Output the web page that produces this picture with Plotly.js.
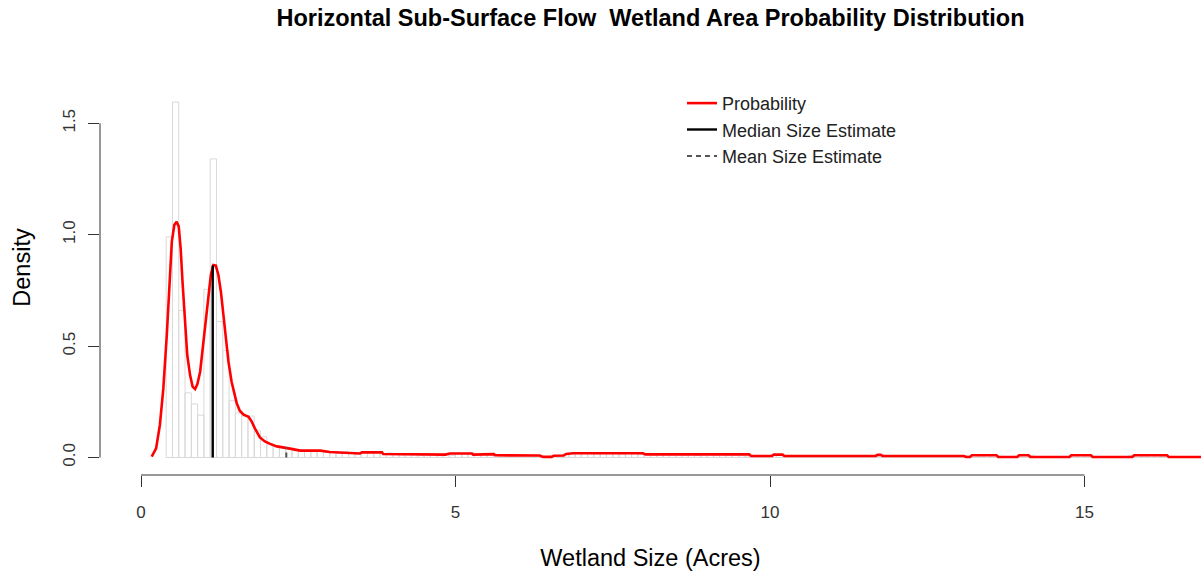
<!DOCTYPE html>
<html>
<head>
<meta charset="utf-8">
<script src="https://cdn.plot.ly/plotly-3.0.1.min.js"></script>
<style>
  html, body { margin: 0; padding: 0; background: #ffffff; }
  #chart { width: 1201px; height: 573px; }
</style>
</head>
<body>
<div id="chart"></div>
<script>
// Histogram of wetland sizes (density scale), bins of 0.1 acre starting at 0.4
var binStart = 0.4;
var binWidth = 0.1;
var barDensity = [
  0.99, 1.595, 0.66, 0.29, 0.24, 0.19, 0.755, 1.34, 0.61, 0.48,
  0.255, 0.20, 0.186, 0.186,
  0.12, 0.093, 0.064, 0.049, 0.045, 0.038, 0.030,
  0.028, 0.032, 0.026, 0.030, 0.024,
  0.022, 0.018, 0.026, 0.020, 0.016,
  0.024, 0.022, 0.026, 0.018, 0.020,
  0.016, 0.012, 0.018, 0.014, 0.010,
  0.014, 0.012, 0.008, 0.016, 0.010,
  0.020, 0.016, 0.022, 0.012, 0.018,
  0.014, 0.010, 0.012, 0.008, 0.010,
  0.008, 0.010, 0.006, 0.004, 0.002,
  0.004, 0.010, 0.016, 0.018, 0.022,
  0.018, 0.020, 0.016, 0.022, 0.018,
  0.020, 0.016, 0.022, 0.018, 0.014,
  0.014, 0.012, 0.016, 0.014, 0.012,
  0.016, 0.012, 0.014, 0.010, 0.016,
  0.014, 0.012, 0.016, 0.010, 0.012,
  0.008, 0.006, 0.008, 0.004, 0.006,
  0.012, 0.014, 0.008, 0.006, 0.008,
  0.006, 0.008, 0.004, 0.006, 0.008,
  0.006, 0.004, 0.008, 0.006, 0.004,
  0.006, 0.008, 0.010, 0.006, 0.004,
  0.006, 0.004, 0.006, 0.008, 0.004,
  0.006, 0.004, 0.006, 0.008, 0.006,
  0.002, 0.008, 0.010, 0.008, 0.010,
  0.008, 0.002, 0.000, 0.002, 0.000,
  0.010, 0.008, 0.002, 0.000, 0.002,
  0.000, 0.002, 0.000, 0.008, 0.010,
  0.008, 0.002, 0.000, 0.002, 0.000,
  0.002, 0.000, 0.008, 0.010, 0.008,
  0.010, 0.008, 0.006, 0.002, 0.000,
  0.002, 0.000, 0.002, 0.000, 0.002
];

// Kernel density estimate of wetland size
var densX = [
  0.17, 0.24, 0.30, 0.355, 0.41, 0.45, 0.49, 0.53, 0.567, 0.60,
  0.63, 0.66, 0.70, 0.735, 0.78, 0.82, 0.86, 0.895, 0.94, 0.98,
  1.02, 1.07, 1.11, 1.15, 1.19, 1.23, 1.27, 1.31, 1.35, 1.39,
  1.44, 1.47, 1.52, 1.57, 1.63, 1.71, 1.76, 1.81, 1.89, 1.97,
  2.05, 2.16, 2.29, 2.37, 2.53, 2.85, 3.00, 3.24, 3.29, 3.48,
  3.51, 3.83, 3.85, 4.28, 4.84, 4.91, 5.26, 5.28, 5.44, 5.61,
  5.63, 6.34, 6.39, 6.53, 6.56, 6.72, 6.76, 6.87, 7.98, 8.02,
  9.67, 9.70, 10.03, 10.06, 10.20, 10.23, 11.68, 11.71, 11.76, 11.79,
  13.08, 13.12, 13.18, 13.21, 13.60, 13.63, 13.93, 13.96, 14.11, 14.14,
  14.76, 14.79, 15.10, 15.13, 15.76, 15.79, 16.31, 16.34, 17.20
];
var densY = [
  0.004, 0.041, 0.146, 0.31, 0.55, 0.774, 0.969, 1.044, 1.058, 1.036,
  0.939, 0.789, 0.61, 0.46, 0.37, 0.318, 0.307, 0.328, 0.385, 0.49,
  0.61, 0.744, 0.819, 0.864, 0.861, 0.819, 0.744, 0.64, 0.52, 0.43,
  0.34, 0.30, 0.245, 0.21, 0.192, 0.183, 0.161, 0.131, 0.09, 0.072,
  0.061, 0.05, 0.045, 0.04, 0.031, 0.031, 0.025, 0.022, 0.018, 0.018,
  0.023, 0.023, 0.016, 0.014, 0.013, 0.018, 0.018, 0.013, 0.015, 0.015,
  0.010, 0.009, 0.003, 0.003, 0.008, 0.009, 0.016, 0.019, 0.019, 0.014,
  0.014, 0.007, 0.007, 0.013, 0.013, 0.007, 0.007, 0.012, 0.012, 0.007,
  0.007, 0.002, 0.002, 0.010, 0.010, 0.002, 0.002, 0.010, 0.010, 0.002,
  0.002, 0.010, 0.010, 0.002, 0.002, 0.010, 0.010, 0.002, 0.002
];

// Summary statistics and the density height at each
var medianSize = 1.14;
var medianDensity = 0.862;
var meanSize = 2.31;
var meanDensity = 0.046;

// Axis ticks
var xTicks = [0, 5, 10, 15];
var yTicks = [0, 0.5, 1.0, 1.5];
var yTickText = ['0.0', '0.5', '1.0', '1.5'];

var barCenters = barDensity.map(function (d, i) { return binStart + (i + 0.5) * binWidth; });

var fontFamily = 'Liberation Sans, Arial, Helvetica, sans-serif';
var axisColor = '#333333';

var traces = [
  {
    type: 'bar',
    x: barCenters,
    y: barDensity,
    width: binWidth,
    marker: { color: 'rgba(255,255,255,0)', line: { color: '#d9d9d9', width: 1 } },
    showlegend: false,
    hoverinfo: 'skip'
  },
  {
    type: 'scatter',
    mode: 'lines',
    name: 'Probability',
    x: densX,
    y: densY,
    line: { color: '#ff0000', width: 2.6 },
    legendgroup: 'a'
  },
  {
    type: 'scatter',
    mode: 'lines',
    name: 'Median Size Estimate',
    x: [medianSize, medianSize],
    y: [0, medianDensity],
    line: { color: '#000000', width: 2.4 },
    legendgroup: 'b'
  },
  {
    type: 'scatter',
    mode: 'lines',
    name: 'Mean Size Estimate',
    x: [meanSize, meanSize],
    y: [0, meanDensity],
    line: { color: '#555555', width: 2, dash: '5px,4px' },
    legendgroup: 'c'
  }
];

var layout = {
  width: 1201,
  height: 573,
  margin: { l: 100, r: 0, t: 60, b: 98 },
  paper_bgcolor: '#ffffff',
  plot_bgcolor: '#ffffff',
  font: { family: fontFamily, color: '#222222', size: 16 },
  barmode: 'overlay',
  bargap: 0,
  title: {
    text: 'Horizontal Sub-Surface Flow\u00a0 Wetland Area Probability Distribution',
    font: { family: fontFamily, size: 23.5, color: '#000000', weight: 'bold' },
    x: 0.5,
    xref: 'paper',
    xanchor: 'center',
    y: 1 - 18 / 573,
    yref: 'container',
    yanchor: 'middle'
  },
  xaxis: {
    range: [-0.652, 16.852],
    showgrid: false,
    zeroline: false,
    showline: false,
    tickmode: 'array',
    tickvals: xTicks,
    ticktext: xTicks.map(String),
    ticks: 'outside',
    ticklen: 11,
    tickwidth: 1,
    tickcolor: axisColor,
    ticklabelstandoff: 11,
    tickfont: { family: fontFamily, size: 17, color: axisColor },
    title: { text: 'Wetland Size (Acres)', font: { family: fontFamily, size: 23.5, color: '#000000' }, standoff: 28 },
    automargin: false,
    fixedrange: true
  },
  yaxis: {
    range: [-0.0785, 1.784],
    showgrid: false,
    zeroline: false,
    showline: false,
    tickmode: 'array',
    tickvals: yTicks,
    ticktext: yTickText,
    tickangle: -90,
    ticks: 'outside',
    ticklen: 11,
    tickwidth: 1,
    tickcolor: axisColor,
    ticklabelstandoff: 6,
    tickfont: { family: fontFamily, size: 17, color: axisColor },
    title: { text: 'Density', font: { family: fontFamily, size: 23.5, color: '#000000' }, standoff: 22 },
    automargin: false,
    fixedrange: true
  },
  legend: {
    x: 0.5286,
    xanchor: 'left',
    y: 0.94,
    yanchor: 'top',
    bgcolor: 'rgba(255,255,255,0)',
    borderwidth: 0,
    font: { family: fontFamily, size: 18, color: '#222222' },
    tracegroupgap: 0,
    itemwidth: 30
  },
  shapes: [
    // axis lines spanning the first to the last tick, as in base graphics
    { type: 'line', xref: 'x', yref: 'paper', x0: xTicks[0], x1: xTicks[xTicks.length - 1], y0: 0, y1: 0,
      line: { color: axisColor, width: 1 } },
    { type: 'line', xref: 'paper', yref: 'y', x0: 0, x1: 0, y0: yTicks[0], y1: yTicks[yTicks.length - 1],
      line: { color: axisColor, width: 1 } }
  ]
};

Plotly.newPlot('chart', traces, layout, { displayModeBar: false, staticPlot: true });
</script>
</body>
</html>
